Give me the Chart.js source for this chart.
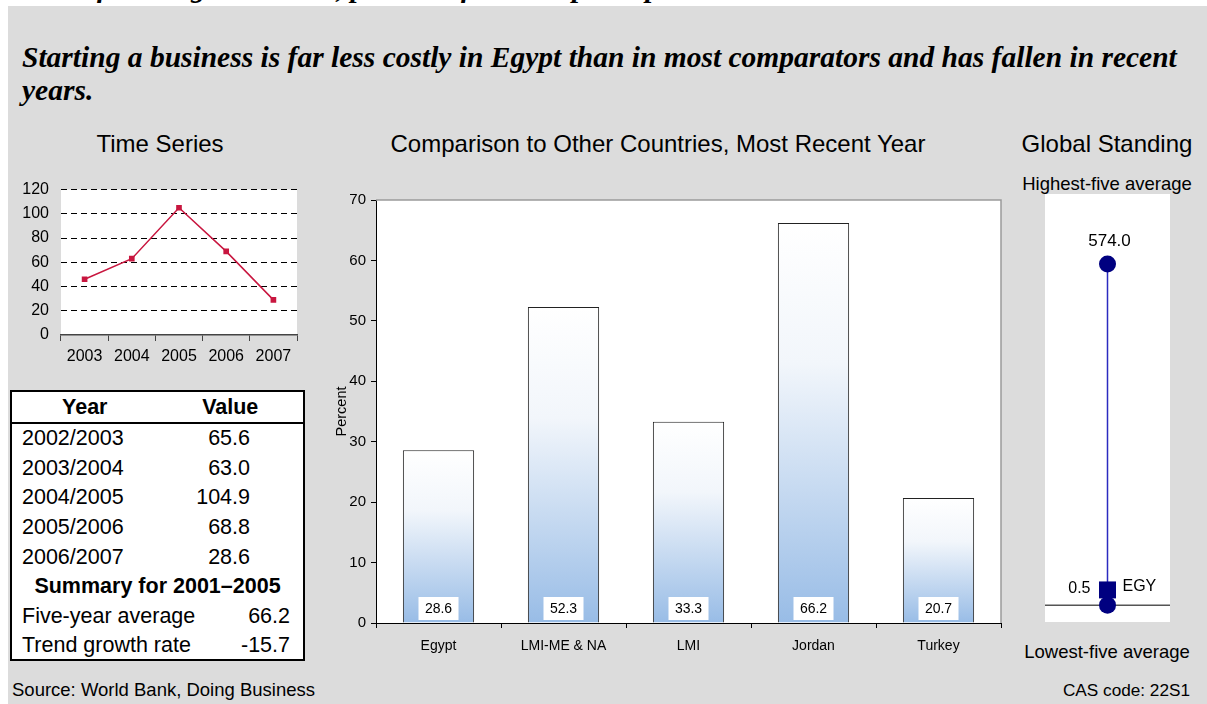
<!DOCTYPE html>
<html>
<head>
<meta charset="utf-8">
<script src="https://cdn.jsdelivr.net/npm/chart.js@4.4.0/dist/chart.umd.min.js"></script>
<style>
  html, body { margin: 0; padding: 0; background: #fff; }
  #page { position: relative; width: 1207px; height: 704px; overflow: hidden; background: #fff;
          font-family: 'Liberation Sans', Arial, sans-serif; color: #000; }
  #panel { position: absolute; left: 8px; top: 6px; width: 1199px; height: 698px; background: #dcdcdc; }
  .abs { position: absolute; white-space: nowrap; }
  .serif { font-family: 'Liberation Serif', 'Times New Roman', serif; font-weight: bold; font-style: italic; }
  .sect { font-size: 24px; text-align: center; line-height: 28px; }
  canvas { position: absolute; }
  #tbl { position: absolute; left: 10px; top: 390px; width: 295px; height: 271px; box-sizing: border-box;
         border: 2px solid #000; background: #fff; }
  #tbl table { border-collapse: collapse; width: 100%; font-size: 21.5px; }
  #tbl td, #tbl th { padding: 0; height: 29.6px; line-height: 29px; }
  #tbl th { font-weight: bold; border-bottom: 2px solid #000; height: 30px; }
</style>
</head>
<body>
<div id="page">
  <div class="abs serif" style="left:22px; top:-29px; font-size:29px;">Cost of starting a business, percent of income per capita</div>
  <div id="panel"></div>

  <div class="abs serif" style="left:22px; top:41px; font-size:29.5px; line-height:33px;">Starting a business is far less costly in Egypt than in most comparators and has fallen in recent<br>years.</div>

  <div class="abs sect" style="left:40px; width:240px; top:130px;">Time Series</div>
  <div class="abs sect" style="left:358px; width:600px; top:130px;">Comparison to Other Countries, Most Recent Year</div>
  <div class="abs sect" style="left:1007px; width:200px; top:130px;">Global Standing</div>

  <div class="abs" style="left:1007px; width:200px; text-align:center; top:173px; font-size:18.5px;">Highest-five average</div>
  <div class="abs" style="left:1007px; width:200px; text-align:center; top:641px; font-size:18.5px;">Lowest-five average</div>

  <canvas id="ts" width="300" height="200" style="left:8px; top:168px;"></canvas>
  <div id="tbl"></div>
  <canvas id="bars" width="700" height="500" style="left:318px; top:165px;"></canvas>
  <canvas id="standing" width="125" height="428" style="left:1045px; top:194px;"></canvas>

  <div class="abs" style="left:12px; top:679px; font-size:18.5px;">Source: World Bank, Doing Business</div>
  <div class="abs" style="right:17px; top:680px; font-size:17.2px;">CAS code: 22S1</div>
</div>

<script>
// time series
const tsYears = ['2003', '2004', '2005', '2006', '2007'];
const tsValues = [46, 63, 105, 69, 29];

// table
const tableYears = ['2002/2003', '2003/2004', '2004/2005', '2005/2006', '2006/2007'];
const tableValues = ['65.6', '63.0', '104.9', '68.8', '28.6'];
const summaryTitle = 'Summary for 2001\u20132005';
const summaryLabels = ['Five-year average', 'Trend growth rate'];
const summaryValues = ['66.2', '-15.7'];

// comparison
const countries = ['Egypt', 'LMI-ME & NA', 'LMI', 'Jordan', 'Turkey'];
const costValues = [28.6, 52.3, 33.3, 66.2, 20.7];

// global standing
const highestFive = 574.0;
const lowestFive = 0.36;
const egyValue = 0.5;
const egyLabel = 'EGY';

Chart.defaults.font.family = "'Liberation Sans', Arial, sans-serif";
Chart.defaults.color = '#000';

const whitePlot = {
  id: 'whitePlot',
  beforeDraw(chart) {
    const a = chart.chartArea;
    const c = chart.ctx;
    c.save();
    c.fillStyle = '#fff';
    c.fillRect(a.left, a.top, a.right - a.left, a.bottom - a.top);
    c.restore();
  }
};

// ---- table
let html = '<table><tr><th style="width:50%">Year</th><th>Value</th></tr>';
tableYears.forEach((y, i) => {
  html += '<tr><td style="padding-left:10px">' + y + '</td><td style="text-align:right;padding-right:53px">' + tableValues[i] + '</td></tr>';
});
html += '<tr><td colspan="2" style="text-align:center;font-weight:bold">' + summaryTitle + '</td></tr>';
summaryLabels.forEach((l, i) => {
  html += '<tr><td colspan="2" style="padding-left:10px;padding-right:13px"><span>' + l + '</span><span style="float:right">' + summaryValues[i] + '</span></td></tr>';
});
html += '</table>';
document.getElementById('tbl').innerHTML = html;

// ---- time series
new Chart(document.getElementById('ts'), {
  type: 'line',
  data: {
    labels: tsYears,
    datasets: [{
      data: tsValues,
      borderColor: '#c8163f',
      backgroundColor: '#c8163f',
      borderWidth: 1.5,
      pointStyle: 'rect',
      pointRadius: 4,
      pointBorderWidth: 0,
      tension: 0
    }]
  },
  options: {
    responsive: false,
    animation: false,
    events: [],
    layout: { padding: { top: 10, right: 11, left: 0, bottom: 0 } },
    plugins: { legend: { display: false }, tooltip: { enabled: false } },
    scales: {
      x: {
        offset: true,
        grid: { offset: true, drawOnChartArea: false, tickLength: 6, color: '#444' },
        border: { display: true, color: '#444', width: 1.5 },
        ticks: { font: { size: 16 }, color: '#000', padding: 6 },
        afterFit: s => { s.height = 33; }
      },
      y: {
        min: 0, max: 120,
        ticks: { stepSize: 20, font: { size: 16 }, color: '#000', padding: 12 },
        grid: { drawTicks: false, color: c => c.tick && c.tick.value === 0 ? 'rgba(0,0,0,0)' : '#000' },
        border: { display: false, dash: [6, 4] },
        afterFit: s => { s.width = 53; }
      }
    }
  },
  plugins: [whitePlot]
});

// ---- comparison bars
const plotFrame = {
  id: 'plotFrame',
  afterDraw(chart) {
    const a = chart.chartArea;
    const c = chart.ctx;
    c.save();
    c.strokeStyle = '#9a9a9a';
    c.lineWidth = 1.5;
    c.beginPath();
    c.moveTo(a.left, a.top);
    c.lineTo(a.right, a.top);
    c.lineTo(a.right, a.bottom);
    c.stroke();
    c.restore();
  }
};

const barLabels = {
  id: 'barLabels',
  afterDatasetsDraw(chart) {
    const c = chart.ctx;
    const y0 = chart.scales.y.getPixelForValue(0);
    c.save();
    c.font = "14px 'Liberation Sans', Arial, sans-serif";
    c.textAlign = 'center';
    c.textBaseline = 'middle';
    chart.getDatasetMeta(0).data.forEach((bar, i) => {
      c.fillStyle = '#fff';
      c.fillRect(bar.x - 20, y0 - 26, 40, 23);
      c.fillStyle = '#000';
      c.fillText(costValues[i].toFixed(1), bar.x, y0 - 14);
    });
    c.restore();
  }
};

new Chart(document.getElementById('bars'), {
  type: 'bar',
  data: {
    labels: countries,
    datasets: [{
      data: costValues,
      backgroundColor: ctx => {
        const chart = ctx.chart;
        if (ctx.type !== 'data' || !chart.chartArea) return '#c6d9f0';
        const y = chart.scales.y;
        const g = chart.ctx.createLinearGradient(0, y.getPixelForValue(ctx.raw), 0, y.getPixelForValue(0));
        g.addColorStop(0, '#ffffff');
        g.addColorStop(0.35, '#f2f6fb');
        g.addColorStop(1, '#98bce6');
        return g;
      },
      borderColor: '#222',
      borderWidth: 1,
      barPercentage: 0.57,
      categoryPercentage: 1
    }]
  },
  options: {
    responsive: false,
    animation: false,
    events: [],
    layout: { padding: { top: 35, right: 17, left: 0, bottom: 0 } },
    plugins: { legend: { display: false }, tooltip: { enabled: false } },
    scales: {
      x: {
        offset: true,
        grid: { offset: true, drawOnChartArea: false, tickLength: 5, color: '#000' },
        border: { display: true, color: '#000', width: 1 },
        ticks: { font: { size: 14 }, color: '#000', padding: 10 },
        afterFit: s => { s.height = 42; }
      },
      y: {
        min: 0, max: 70,
        ticks: { stepSize: 10, font: { size: 15 }, color: '#000', padding: 5 },
        grid: { drawOnChartArea: false, tickLength: 5, color: '#000' },
        border: { display: true, color: '#000', width: 1 },
        title: { display: true, text: 'Percent', font: { size: 14.5 }, color: '#000', padding: { top: 15, bottom: 0 } },
        afterFit: s => { s.width = 58; }
      }
    }
  },
  plugins: [whitePlot, plotFrame, barLabels]
});

// ---- global standing
const baseLine = {
  id: 'baseLine',
  beforeDatasetsDraw(chart) {
    const a = chart.chartArea;
    const c = chart.ctx;
    const y = chart.scales.y.getPixelForValue(lowestFive);
    c.save();
    c.strokeStyle = '#555';
    c.lineWidth = 1.5;
    c.beginPath();
    c.moveTo(a.left, y);
    c.lineTo(a.right, y);
    c.stroke();
    c.restore();
  },
  afterDatasetsDraw(chart) {
    const c = chart.ctx;
    const xs = chart.scales.x, ys = chart.scales.y;
    const x = xs.getPixelForValue(1);
    c.save();
    c.font = "17px 'Liberation Sans', Arial, sans-serif";
    c.fillStyle = '#000';
    c.textBaseline = 'middle';
    c.textAlign = 'center';
    c.fillText(highestFive.toFixed(1), x + 2, ys.getPixelForValue(highestFive) - 23);
    const ye = ys.getPixelForValue(egyValue);
    c.font = "16px 'Liberation Sans', Arial, sans-serif";
    c.textAlign = 'right';
    c.fillText(String(egyValue), x - 17, ye - 1);
    c.textAlign = 'left';
    c.fillText(egyLabel, x + 15, ye - 3);
    c.restore();
  }
};

new Chart(document.getElementById('standing'), {
  type: 'scatter',
  data: {
    datasets: [
      { data: [{ x: 1, y: egyValue }], pointStyle: 'rect', pointRadius: 12, backgroundColor: '#000080', borderWidth: 0 },
      { data: [{ x: 1, y: highestFive }, { x: 1, y: lowestFive }], pointRadius: 8.5, backgroundColor: '#000080', borderWidth: 0 },
      { type: 'line', data: [{ x: 1, y: highestFive }, { x: 1, y: egyValue }], borderColor: '#2b2bc0', borderWidth: 1.5, pointRadius: 0 }
    ]
  },
  options: {
    responsive: false,
    animation: false,
    events: [],
    layout: { padding: 0, autoPadding: false },
    plugins: { legend: { display: false }, tooltip: { enabled: false } },
    scales: {
      x: { display: false, min: 0, max: 2 },
      y: { display: false, type: 'logarithmic', min: 0.25, max: 2600 }
    }
  },
  plugins: [whitePlot, baseLine]
});
</script>
</body>
</html>
